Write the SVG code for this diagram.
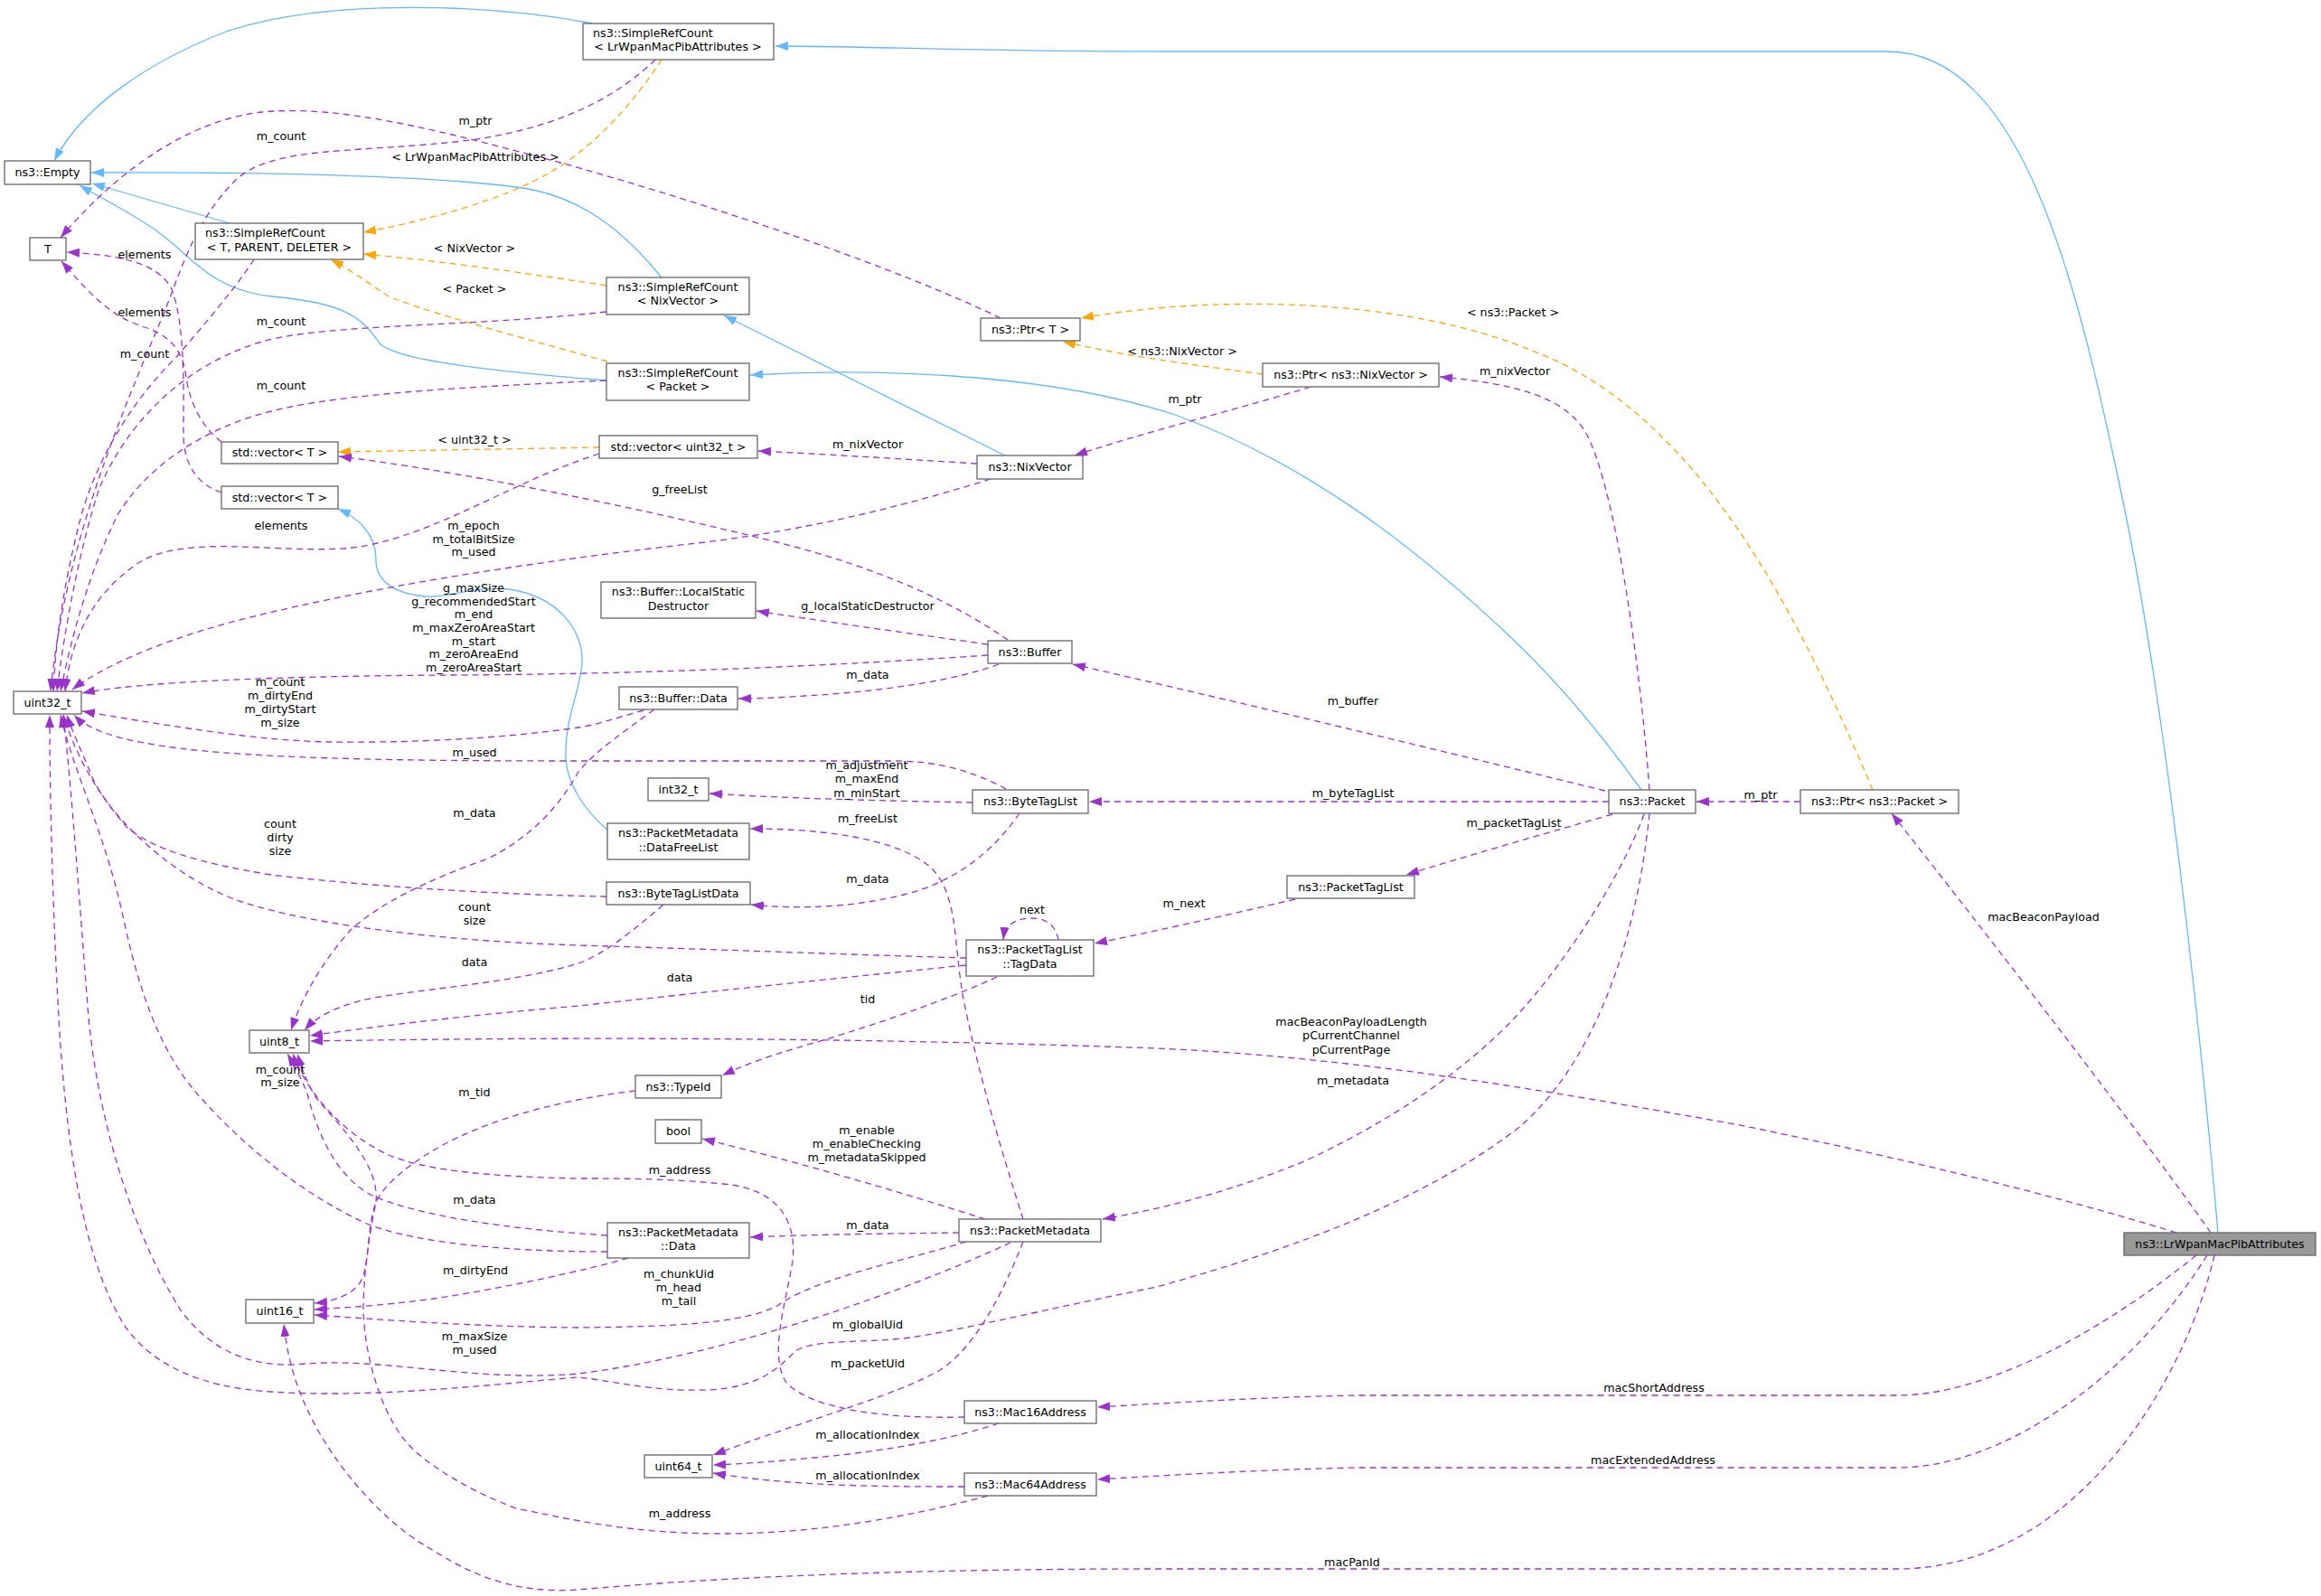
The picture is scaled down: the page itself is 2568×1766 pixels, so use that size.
<svg xmlns="http://www.w3.org/2000/svg" width="2568" height="1766" viewBox="0 0 2568 1766">
<style>
text{font-family:"DejaVu Sans","Liberation Sans",sans-serif;font-size:12.7px;fill:#000}
.c{text-anchor:middle}
.n rect{fill:#fff;stroke:#666;stroke-width:1.3}
.g rect{fill:#999;stroke:#666;stroke-width:1.3}
.e{fill:none;stroke-width:1.3}
.p{stroke:#9a32cd;stroke-dasharray:7,5;marker-end:url(#mp)}
.o{stroke:#ffa500;stroke-dasharray:7,5;marker-end:url(#mo)}
.b{stroke:#63b8ff;marker-end:url(#mb)}
</style>
<defs>
<marker id="mp" viewBox="0 0 14 10" refX="14" refY="5" markerWidth="14" markerHeight="10" markerUnits="userSpaceOnUse" orient="auto"><path d="M0,0L14,5L0,10z" fill="#9a32cd"/></marker>
<marker id="mo" viewBox="0 0 14 10" refX="14" refY="5" markerWidth="14" markerHeight="10" markerUnits="userSpaceOnUse" orient="auto"><path d="M0,0L14,5L0,10z" fill="#ffa500"/></marker>
<marker id="mb" viewBox="0 0 14 10" refX="14" refY="5" markerWidth="14" markerHeight="10" markerUnits="userSpaceOnUse" orient="auto"><path d="M0,0L14,5L0,10z" fill="#63b8ff"/></marker>
</defs>
<rect width="2568" height="1766" fill="#fff"/>
<g id="connectors">
<path class="e b" d="M656,26 C540,4 360,-2 250,35 C160,70 90,120 60,178"/>
<path class="e b" d="M2454,1364 C2440,1200 2400,800 2350,560 C2300,320 2240,57 2088,57 L1300,57 C1100,57 950,51 858,51"/>
<path class="e b" d="M254,247 L102,203"/>
<path class="e b" d="M732,307 C690,255 640,215 571,207 C480,195 300,190 101,191"/>
<path class="e b" d="M671,421 C560,412 440,400 420,380 C400,350 380,335 300,328 C230,320 210,280 170,253 C140,233 110,218 88,205"/>
<path class="e b" d="M1112,504 L801,349"/>
<path class="e b" d="M1816,874 C1770,810 1720,750 1666,700 C1560,600 1440,510 1300,459 C1150,410 950,408 830,415"/>
<path class="e b" d="M672,918 C650,900 628,870 626,840 C624,800 640,770 644,735 C646,700 620,660 563,652 C520,648 500,662 470,660 C420,655 415,630 416,617 C415,590 395,572 374,563"/>
<path class="e o" d="M732,66 C700,115 660,160 610,190 C560,220 470,245 402,257"/>
<path class="e o" d="M671,316 C600,305 500,290 402,281"/>
<path class="e o" d="M672,400 C600,380 470,345 430,328 C410,315 390,300 366,287"/>
<path class="e o" d="M663,495 L374,500"/>
<path class="e o" d="M1397,414 C1330,405 1250,395 1176,378"/>
<path class="e o" d="M2072,874 C1990,680 1880,460 1700,390 C1560,330 1350,325 1196,352"/>
<path class="e p" d="M1107,352 C1000,300 800,230 620,180 C500,148 380,115 290,124 C200,134 120,200 67,263"/>
<path class="e p" d="M725,66 C690,100 630,140 520,155 C400,170 300,160 260,200 C215,245 200,300 180,350 C120,490 70,620 56,765"/>
<path class="e p" d="M281,287 C260,320 225,360 196,394 C150,440 110,500 90,570 C72,640 62,700 59,765"/>
<path class="e p" d="M671,345 C520,362 360,358 290,378 C200,405 140,470 110,540 C90,600 72,690 63,765"/>
<path class="e p" d="M671,421 C520,428 380,435 300,455 C220,475 160,520 130,570 C100,630 80,700 67,765"/>
<path class="e p" d="M663,502 C560,535 470,600 380,607 C300,612 200,590 150,625 C100,660 78,710 72,765"/>
<path class="e p" d="M245,489 C220,470 208,440 205,410 C200,385 185,370 160,362 C120,350 95,320 68,289"/>
<path class="e p" d="M245,545 C215,535 203,510 203,480 C203,430 205,360 190,320 C175,290 130,282 74,279"/>
<path class="e p" d="M1096,530 C1000,560 900,585 780,600 C600,620 400,650 250,690 C170,712 110,740 80,763"/>
<path class="e p" d="M1450,428 C1380,450 1260,480 1189,504"/>
<path class="e p" d="M1825,874 C1815,740 1790,560 1760,490 C1740,440 1680,425 1593,417"/>
<path class="e p" d="M1081,513 C1000,508 920,503 839,499"/>
<path class="e p" d="M1115,708 C1060,670 980,630 860,600 C700,560 500,520 375,505"/>
<path class="e p" d="M1093,713 C1000,700 900,686 837,676"/>
<path class="e p" d="M1093,725 C900,738 700,746 500,747 C300,748 150,755 91,767"/>
<path class="e p" d="M1105,735 C1060,752 980,765 890,770 C860,772 840,773 817,773"/>
<path class="e p" d="M712,786 C680,795 660,802 640,805 C550,818 450,822 367,821 C280,820 170,800 91,787"/>
<path class="e p" d="M724,785 C690,810 660,830 640,854 C620,890 590,925 540,950 C470,975 420,1000 388,1029 C360,1060 335,1100 322,1140"/>
<path class="e p" d="M1113,873 C1080,855 1040,842 990,842 L640,842 C450,842 250,840 160,822 C120,815 95,805 82,791"/>
<path class="e p" d="M1076,888 C980,886 880,884 785,878"/>
<path class="e p" d="M1128,900 C1100,940 1060,975 1000,990 C940,1005 880,1006 831,1001"/>
<path class="e p" d="M671,992 C550,990 400,980 300,968 C220,955 170,940 140,915 C110,880 85,840 70,791"/>
<path class="e p" d="M734,1001 C700,1030 670,1055 640,1066 C560,1090 450,1095 400,1107 C370,1115 350,1125 337,1140"/>
<path class="e p" d="M1069,1060 C900,1055 780,1050 640,1046 C450,1040 300,1015 245,989 C180,960 120,900 102,860 C90,830 80,810 74,791"/>
<path class="e p" d="M1069,1068 C900,1085 760,1100 640,1113 C500,1125 400,1138 343,1146"/>
<path class="e p" d="M1171,1040 C1168,1022 1155,1016 1142,1016 C1125,1016 1112,1022 1110,1040"/>
<path class="e p" d="M1103,1081 C1040,1110 950,1140 880,1160 C840,1172 820,1180 799,1190"/>
<path class="e p" d="M1433,995 C1360,1012 1280,1030 1211,1044"/>
<path class="e p" d="M1776,875 C1550,820 1350,772 1187,735"/>
<path class="e p" d="M1780,887 L1205,887"/>
<path class="e p" d="M1784,901 C1700,925 1620,948 1556,968"/>
<path class="e p" d="M1819,901 C1790,980 1720,1080 1676,1126 C1620,1185 1540,1240 1443,1285 C1370,1315 1300,1335 1220,1349"/>
<path class="e p" d="M1825,900 C1810,1050 1760,1180 1680,1248 C1560,1340 1400,1390 1280,1424 C1150,1450 1050,1475 999,1481 C950,1486 900,1482 880,1495 C860,1515 840,1535 783,1538 C720,1540 680,1528 640,1524 C560,1530 420,1548 300,1540 C220,1535 170,1510 140,1470 C100,1410 75,1300 65,1126 C58,1000 55,880 55,791"/>
<path class="e p" d="M1118,1375 C1000,1430 800,1500 640,1520 C520,1530 420,1500 327,1510 C270,1512 230,1490 200,1450 C150,1370 110,1250 98,1126 C88,1000 80,880 70,791"/>
<path class="e p" d="M672,1385 C560,1385 460,1375 408,1355 C330,1320 260,1260 212,1203 C170,1150 150,1080 135,1009 C115,920 80,850 67,791"/>
<path class="e p" d="M1132,1349 C1110,1280 1080,1180 1065,1100 C1055,1040 1060,990 1030,960 C990,925 900,917 830,917"/>
<path class="e p" d="M1090,1349 C1000,1320 880,1285 777,1260"/>
<path class="e p" d="M1061,1364 C980,1365 900,1366 830,1369"/>
<path class="e p" d="M1069,1374 C1000,1395 900,1415 860,1445 C820,1465 740,1468 640,1469 C520,1468 420,1460 348,1455"/>
<path class="e p" d="M1132,1374 C1110,1430 1080,1490 1040,1516 C990,1545 880,1575 789,1610"/>
<path class="e p" d="M672,1367 C560,1360 460,1345 410,1322 C370,1300 350,1250 340,1210 C332,1190 325,1178 318,1166"/>
<path class="e p" d="M695,1392 C650,1405 560,1425 480,1437 C420,1445 380,1447 348,1449"/>
<path class="e p" d="M703,1207 C660,1212 580,1225 510,1257 C460,1280 425,1310 416,1330 C405,1360 410,1400 398,1420 C388,1433 370,1440 348,1442"/>
<path class="e p" d="M1067,1568 C980,1570 900,1560 870,1530 C850,1500 870,1440 877,1395 C882,1350 860,1315 800,1310 C740,1304 690,1304 640,1304 C540,1302 470,1295 430,1278 C380,1255 340,1210 324,1166"/>
<path class="e p" d="M1093,1655 C1000,1680 900,1697 800,1697 C700,1697 640,1683 571,1669 C520,1650 470,1620 449,1595 C420,1560 404,1500 402,1452 C402,1400 412,1350 416,1330 C420,1290 380,1250 350,1215 C340,1200 333,1180 329,1166"/>
<path class="e p" d="M1105,1575 C1060,1590 990,1605 900,1613 C860,1617 820,1620 789,1621"/>
<path class="e p" d="M1067,1645 C980,1645 880,1645 789,1630"/>
<path class="e p" d="M1992,887 L1877,887"/>
<path class="e p" d="M2446,1364 C2380,1270 2250,1100 2093,900"/>
<path class="e p" d="M2408,1364 C2250,1315 2050,1270 1920,1244 C1700,1205 1500,1170 1280,1160 C1000,1150 700,1146 343,1152"/>
<path class="e p" d="M2430,1389 C2330,1470 2200,1544 2099,1544 L1500,1544 C1400,1546 1300,1552 1214,1557"/>
<path class="e p" d="M2442,1389 C2360,1520 2220,1624 2099,1624 L1500,1624 C1400,1626 1300,1632 1214,1637"/>
<path class="e p" d="M2450,1389 C2420,1520 2300,1736 2099,1736 L1280,1736 C1000,1736 800,1745 640,1759 C560,1765 510,1735 470,1710 C420,1680 370,1620 345,1570 C325,1530 318,1500 314,1465"/>
<g class="c">
<text x="526" y="138">m_ptr</text>
<text x="311" y="155">m_count</text>
<text x="526" y="178">&lt; LrWpanMacPibAttributes &gt;</text>
<text x="160" y="286">elements</text>
<text x="525" y="279">&lt; NixVector &gt;</text>
<text x="525" y="324">&lt; Packet &gt;</text>
<text x="160" y="350">elements</text>
<text x="311" y="360">m_count</text>
<text x="160" y="396">m_count</text>
<text x="311" y="431">m_count</text>
<text x="525" y="491">&lt; uint32_t &gt;</text>
<text x="960" y="496">m_nixVector</text>
<text x="752" y="546">g_freeList</text>
<text x="311" y="586">elements</text>
<text x="524" y="586">m_epoch</text>
<text x="524" y="601">m_totalBitSize</text>
<text x="524" y="615">m_used</text>
<text x="524" y="655">g_maxSize</text>
<text x="524" y="670">g_recommendedStart</text>
<text x="524" y="684">m_end</text>
<text x="524" y="699">m_maxZeroAreaStart</text>
<text x="524" y="714">m_start</text>
<text x="524" y="728">m_zeroAreaEnd</text>
<text x="524" y="743">m_zeroAreaStart</text>
<text x="960" y="675">g_localStaticDestructor</text>
<text x="960" y="751">m_data</text>
<text x="310" y="759">m_count</text>
<text x="310" y="774">m_dirtyEnd</text>
<text x="310" y="789">m_dirtyStart</text>
<text x="310" y="804">m_size</text>
<text x="525" y="837">m_used</text>
<text x="959" y="851">m_adjustment</text>
<text x="959" y="866">m_maxEnd</text>
<text x="959" y="882">m_minStart</text>
<text x="525" y="904">m_data</text>
<text x="960" y="910">m_freeList</text>
<text x="310" y="916">count</text>
<text x="310" y="931">dirty</text>
<text x="310" y="946">size</text>
<text x="960" y="977">m_data</text>
<text x="525" y="1008">count</text>
<text x="525" y="1023">size</text>
<text x="1142" y="1011">next</text>
<text x="525" y="1069">data</text>
<text x="752" y="1086">data</text>
<text x="960" y="1110">tid</text>
<text x="310" y="1188">m_count</text>
<text x="310" y="1202">m_size</text>
<text x="525" y="1213">m_tid</text>
<text x="959" y="1255">m_enable</text>
<text x="959" y="1270">m_enableChecking</text>
<text x="959" y="1285">m_metadataSkipped</text>
<text x="752" y="1299">m_address</text>
<text x="525" y="1332">m_data</text>
<text x="960" y="1360">m_data</text>
<text x="526" y="1410">m_dirtyEnd</text>
<text x="751" y="1414">m_chunkUid</text>
<text x="751" y="1429">m_head</text>
<text x="751" y="1444">m_tail</text>
<text x="960" y="1470">m_globalUid</text>
<text x="525" y="1483">m_maxSize</text>
<text x="525" y="1498">m_used</text>
<text x="960" y="1513">m_packetUid</text>
<text x="960" y="1592">m_allocationIndex</text>
<text x="960" y="1637">m_allocationIndex</text>
<text x="752" y="1679">m_address</text>
<text x="1497" y="780">m_buffer</text>
<text x="1497" y="882">m_byteTagList</text>
<text x="1675" y="915">m_packetTagList</text>
<text x="1310" y="1004">m_next</text>
<text x="1495" y="1135">macBeaconPayloadLength</text>
<text x="1495" y="1150">pCurrentChannel</text>
<text x="1495" y="1166">pCurrentPage</text>
<text x="1497" y="1200">m_metadata</text>
<text x="1830" y="1540">macShortAddress</text>
<text x="1829" y="1620">macExtendedAddress</text>
<text x="1496" y="1733">macPanId</text>
<text x="2261" y="1019">macBeaconPayload</text>
<text x="1948" y="884">m_ptr</text>
<text x="1311" y="446">m_ptr</text>
<text x="1676" y="415">m_nixVector</text>
<text x="1308" y="393">&lt; ns3::NixVector &gt;</text>
<text x="1674" y="350">&lt; ns3::Packet &gt;</text>
</g>
</g>
<g id="n_srclr" class="n"><rect x="645" y="26" width="211" height="40"/><text x="656" y="41">ns3::SimpleRefCount</text><text class="c" x="750" y="56">&lt; LrWpanMacPibAttributes &gt;</text></g>
<g id="n_empty" class="n"><rect x="5" y="178" width="95" height="26"/><text class="c" x="52.5" y="195">ns3::Empty</text></g>
<g id="n_t" class="n"><rect x="33" y="263" width="40" height="25"/><text class="c" x="53" y="280">T</text></g>
<g id="n_srctpd" class="n"><rect x="216" y="247" width="186" height="40"/><text x="227" y="262">ns3::SimpleRefCount</text><text class="c" x="309" y="278">&lt; T, PARENT, DELETER &gt;</text></g>
<g id="n_srcnix" class="n"><rect x="671" y="307" width="158" height="41"/><text class="c" x="750" y="322">ns3::SimpleRefCount</text><text class="c" x="750" y="337">&lt; NixVector &gt;</text></g>
<g id="n_srcpkt" class="n"><rect x="671" y="402" width="158" height="41"/><text class="c" x="750" y="417">ns3::SimpleRefCount</text><text class="c" x="750" y="432">&lt; Packet &gt;</text></g>
<g id="n_ptrt" class="n"><rect x="1085" y="352" width="110" height="25"/><text class="c" x="1140" y="369">ns3::Ptr&lt; T &gt;</text></g>
<g id="n_ptrnix" class="n"><rect x="1397" y="402" width="195" height="26"/><text class="c" x="1494.5" y="419">ns3::Ptr&lt; ns3::NixVector &gt;</text></g>
<g id="n_vect1" class="n"><rect x="245" y="489" width="129" height="24"/><text class="c" x="309.5" y="505">std::vector&lt; T &gt;</text></g>
<g id="n_vect2" class="n"><rect x="245" y="538" width="129" height="25"/><text class="c" x="309.5" y="555">std::vector&lt; T &gt;</text></g>
<g id="n_vecu32" class="n"><rect x="663" y="482" width="175" height="25"/><text class="c" x="750.5" y="499">std::vector&lt; uint32_t &gt;</text></g>
<g id="n_nixvector" class="n"><rect x="1081" y="504" width="117" height="26"/><text class="c" x="1139.5" y="521">ns3::NixVector</text></g>
<g id="n_uint32" class="n"><rect x="15" y="765" width="75" height="25"/><text class="c" x="52.5" y="782">uint32_t</text></g>
<g id="n_localstatic" class="n"><rect x="665" y="644" width="171" height="40"/><text class="c" x="750.5" y="659">ns3::Buffer::LocalStatic</text><text class="c" x="750.5" y="675">Destructor</text></g>
<g id="n_buffer" class="n"><rect x="1093" y="709" width="93" height="25"/><text class="c" x="1139.5" y="726">ns3::Buffer</text></g>
<g id="n_bufferdata" class="n"><rect x="685" y="760" width="131" height="25"/><text class="c" x="750.5" y="777">ns3::Buffer::Data</text></g>
<g id="n_int32" class="n"><rect x="717" y="861" width="67" height="25"/><text class="c" x="750.5" y="878">int32_t</text></g>
<g id="n_bytetaglist" class="n"><rect x="1076" y="874" width="128" height="26"/><text class="c" x="1140" y="891">ns3::ByteTagList</text></g>
<g id="n_datafreelist" class="n"><rect x="672" y="911" width="157" height="40"/><text class="c" x="750.5" y="926">ns3::PacketMetadata</text><text class="c" x="750.5" y="942">::DataFreeList</text></g>
<g id="n_btld" class="n"><rect x="671" y="976" width="159" height="25"/><text class="c" x="750.5" y="993">ns3::ByteTagListData</text></g>
<g id="n_tagdata" class="n"><rect x="1069" y="1040" width="141" height="40"/><text class="c" x="1139.5" y="1055">ns3::PacketTagList</text><text class="c" x="1139.5" y="1071">::TagData</text></g>
<g id="n_packettaglist" class="n"><rect x="1424" y="969" width="141" height="25"/><text class="c" x="1494.5" y="986">ns3::PacketTagList</text></g>
<g id="n_packet" class="n"><rect x="1780" y="874" width="96" height="26"/><text class="c" x="1828" y="891">ns3::Packet</text></g>
<g id="n_ptrpacket" class="n"><rect x="1992" y="874" width="175" height="26"/><text class="c" x="2079.5" y="891">ns3::Ptr&lt; ns3::Packet &gt;</text></g>
<g id="n_uint8" class="n"><rect x="276" y="1140" width="66" height="25"/><text class="c" x="309" y="1157">uint8_t</text></g>
<g id="n_typeid" class="n"><rect x="703" y="1190" width="95" height="25"/><text class="c" x="750.5" y="1207">ns3::TypeId</text></g>
<g id="n_bool" class="n"><rect x="725" y="1239" width="51" height="26"/><text class="c" x="750.5" y="1256">bool</text></g>
<g id="n_pmdata" class="n"><rect x="672" y="1353" width="157" height="39"/><text class="c" x="750.5" y="1368">ns3::PacketMetadata</text><text class="c" x="750.5" y="1383">::Data</text></g>
<g id="n_packetmetadata" class="n"><rect x="1061" y="1349" width="157" height="25"/><text class="c" x="1139.5" y="1366">ns3::PacketMetadata</text></g>
<g id="n_uint16" class="n"><rect x="272" y="1438" width="75" height="26"/><text class="c" x="309.5" y="1455">uint16_t</text></g>
<g id="n_mac16" class="n"><rect x="1067" y="1550" width="146" height="25"/><text class="c" x="1140" y="1567">ns3::Mac16Address</text></g>
<g id="n_uint64" class="n"><rect x="713" y="1610" width="75" height="25"/><text class="c" x="750.5" y="1627">uint64_t</text></g>
<g id="n_mac64" class="n"><rect x="1067" y="1630" width="146" height="25"/><text class="c" x="1140" y="1647">ns3::Mac64Address</text></g>
<g id="n_lrwpan" class="g"><rect x="2350" y="1364" width="212" height="25"/><text class="c" x="2456" y="1381">ns3::LrWpanMacPibAttributes</text></g>
</svg>
